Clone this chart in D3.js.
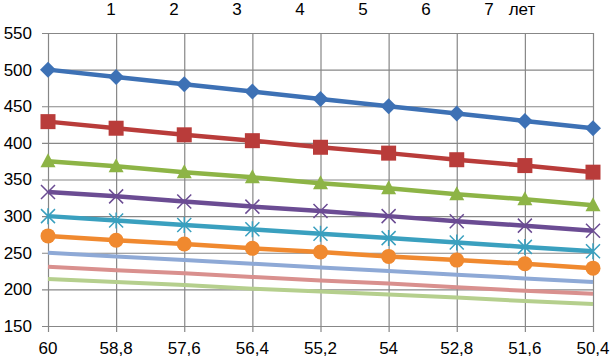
<!DOCTYPE html>
<html>
<head>
<meta charset="utf-8">
<script src="https://cdn.jsdelivr.net/npm/d3@7"></script>
<style>
body{margin:0;background:#fff;}
svg{display:block;}
text{font-family:"Liberation Sans",Arial,sans-serif;fill:#000;}
</style>
</head>
<body>
<svg id="chart" width="610" height="357"></svg>
<script>
// categories (x), top labels, y ticks
var categories = ['60','58,8','57,6','56,4','55,2','54','52,8','51,6','50,4'];
var topLabels = ['1','2','3','4','5','6','7','лет'];
var yTicks = [150,200,250,300,350,400,450,500,550];

// series values
var s1 = [500,490,480,470,460,450,440,430,420];
var s2 = [429,420,411,403,394,386,377,369,360];
var s3 = [375,368,360,353,345,338,330,323,315];
var s4 = [333,327,320,313,307,300,293,287,280];
var s5 = [300,294,288,282,276,270,264,258,252];
var s6 = [273,267,262,256,251,245,240,235,229];
var s7 = [250,245,240,235,230,225,220,215,210];
var s8 = [231,226,222,217,212,208,203,198,194];
var s9 = [214,210,206,201,197,193,189,184,180];

var series = [
	{vals:s1, color:'#3d71b5', marker:'diamond'},
	{vals:s2, color:'#b93c3a', marker:'square'},
	{vals:s3, color:'#8db446', marker:'triangle'},
	{vals:s4, color:'#6b4c93', marker:'x'},
	{vals:s5, color:'#3aa0bf', marker:'star'},
	{vals:s6, color:'#f0892f', marker:'circle'},
	{vals:s7, color:'#8ea9d6', marker:null},
	{vals:s8, color:'#d9908e', marker:null},
	{vals:s9, color:'#b5cf8d', marker:null}
];

var svg = d3.select('#chart');
var margin = {left:48,right:17,top:33,bottom:31};
var width = +svg.attr('width'), height = +svg.attr('height');
var innerwidth = width - margin.left - margin.right;
var innerheight = height - margin.top - margin.bottom;

var xscale = d3.scalePoint().domain(categories).range([0,innerwidth]);
var yscale = d3.scaleLinear().domain([150,550]).range([innerheight,0]);

var g = svg.append('g').attr('transform',`translate(${margin.left},${margin.top})`);

// horizontal grid + left ticks
g.append('g').selectAll('line').data(yTicks).enter().append('line')
	.attr('x1',-6).attr('x2',innerwidth)
	.attr('y1',d=>yscale(d)+0.5).attr('y2',d=>yscale(d)+0.5)
	.attr('stroke','#878787').attr('stroke-width',1.2);

// vertical grid + bottom ticks
g.append('g').selectAll('line').data(categories).enter().append('line')
	.attr('x1',d=>xscale(d)+0.5).attr('x2',d=>xscale(d)+0.5)
	.attr('y1',0).attr('y2',innerheight+6)
	.attr('stroke','#878787').attr('stroke-width',1.2);

// y labels
g.append('g').selectAll('text').data(yTicks).enter().append('text')
	.attr('x',-16).attr('y',d=>yscale(d)).attr('dy','0.35em')
	.attr('text-anchor','end').style('font-size','17px')
	.text(d=>d);

// x labels
g.append('g').selectAll('text').data(categories).enter().append('text')
	.attr('x',d=>xscale(d)).attr('y',innerheight+28)
	.attr('text-anchor','middle').style('font-size','17px')
	.text(d=>d);

// top labels (hand placed in the original)
svg.append('g').selectAll('text').data(topLabels).enter().append('text')
	.attr('x',(d,i)=> i<7 ? 111 + i*63 : 522)
	.attr('y',15).attr('text-anchor','middle').style('font-size','17px')
	.text(d=>d);

var line = d3.line().x((d,i)=>xscale(categories[i])).y(d=>yscale(d));

// draw lines: back series first
series.slice().reverse().forEach(function(s){
	g.append('path').datum(s.vals)
		.attr('d',line).attr('fill','none')
		.attr('stroke',s.color).attr('stroke-width',s.marker?4.5:4)
		.attr('stroke-linecap','butt');
	if(!s.marker) return;
	var mg = g.append('g');
	s.vals.forEach(function(v,i){
		var x = xscale(categories[i]), y = yscale(v);
		var m = mg.append('g').attr('transform',`translate(${x},${y})`);
		if(s.marker=='diamond'){
			m.append('path').attr('d','M0,-8L8,0L0,8L-8,0Z').attr('fill',s.color);
		} else if(s.marker=='square'){
			m.append('rect').attr('x',-7.5).attr('y',-7.5).attr('width',15).attr('height',15).attr('fill',s.color);
		} else if(s.marker=='triangle'){
			m.append('path').attr('d','M0,-8L7.5,6L-7.5,6Z').attr('fill',s.color);
		} else if(s.marker=='circle'){
			m.append('circle').attr('r',7.5).attr('fill',s.color);
		} else if(s.marker=='x'){
			m.append('path').attr('d','M-7,-7L7,7M-7,7L7,-7').attr('stroke',s.color).attr('stroke-width',1.5);
		} else if(s.marker=='star'){
			m.append('path').attr('d','M-7,-7L7,7M-7,7L7,-7M0,-8L0,8').attr('stroke',s.color).attr('stroke-width',1.5);
		}
	});
});
</script>
</body>
</html>
